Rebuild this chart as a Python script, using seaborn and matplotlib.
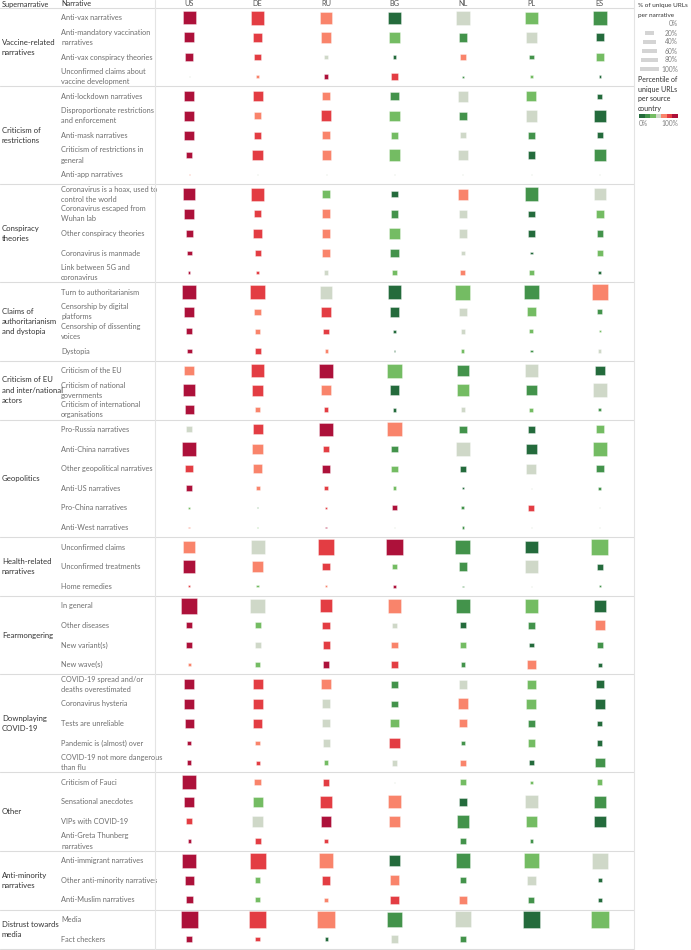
import numpy as np
import pandas as pd
import seaborn as sns
from matplotlib import pyplot as plt
from matplotlib.patches import Rectangle
from matplotlib.transforms import blended_transform_factory

countries = ["US", "DE", "RU", "BG", "NL", "PL", "ES"]

groups = ["Vaccine-related\nnarratives", "Criticism of\nrestrictions", "Conspiracy\ntheories",
          "Claims of\nauthoritarianism\nand dystopia", "Criticism of EU\nand inter/national\nactors",
          "Geopolitics", "Health-related\nnarratives", "Fearmongering", "Downplaying\nCOVID-19",
          "Other", "Anti-minority\nnarratives", "Distrust towards\nmedia"]
group_sizes = [4, 5, 5, 4, 3, 6, 3, 4, 5, 4, 3, 2]

narratives = [
    "Anti-vax narratives", "Anti-mandatory vaccination\nnarratives", "Anti-vax conspiracy theories",
    "Unconfirmed claims about\nvaccine development",
    "Anti-lockdown narratives", "Disproportionate restrictions\nand enforcement", "Anti-mask narratives",
    "Criticism of restrictions in\ngeneral", "Anti-app narratives",
    "Coronavirus is a hoax, used to\ncontrol the world", "Coronavirus escaped from\nWuhan lab",
    "Other conspiracy theories", "Coronavirus is manmade", "Link between 5G and\ncoronavirus",
    "Turn to authoritarianism", "Censorship by digital\nplatforms", "Censorship of dissenting\nvoices", "Dystopia",
    "Criticism of the EU", "Criticism of national\ngovernments", "Criticism of international\norganisations",
    "Pro-Russia narratives", "Anti-China narratives", "Other geopolitical narratives", "Anti-US narratives",
    "Pro-China narratives", "Anti-West narratives",
    "Unconfirmed claims", "Unconfirmed treatments", "Home remedies",
    "In general", "Other diseases", "New variant(s)", "New wave(s)",
    "COVID-19 spread and/or\ndeaths overestimated", "Coronavirus hysteria", "Tests are unreliable",
    "Pandemic is (almost) over", "COVID-19 not more dangerous\nthan flu",
    "Criticism of Fauci", "Sensational anecdotes", "VIPs with COVID-19", "Anti-Greta Thunberg\nnarratives",
    "Anti-immigrant narratives", "Other anti-minority narratives", "Anti-Muslim narratives",
    "Media", "Fact checkers",
]

# % of unique URLs per narrative
share_us = [53, 33, 18, 0.3, 36, 29, 29, 12, 0.3, 48, 29, 15, 8, 1.8, 59, 29, 11, 8, 31, 45, 27,
            11, 65, 18, 12, 1.3, 0.9, 45, 51, 0.9, 78, 12, 12, 2.4, 33, 29, 27, 5, 6, 65, 29, 11, 3.7,
            65, 25, 15, 96, 11]
share_de = [59, 25, 15, 2.4, 33, 15, 18, 36, 0.3, 53, 15, 25, 11, 3, 68, 13, 6, 12, 53, 38, 8,
            33, 36, 27, 4.5, 0.3, 0.9, 65, 36, 1.8, 68, 12, 12, 9.5, 31, 33, 25, 6, 5, 13, 33, 43, 11,
            82, 9.5, 7, 100, 6]
share_ru = [51, 38, 7, 6, 21, 38, 20, 27, 0.3, 21, 25, 25, 25, 6, 53, 36, 9.5, 3, 62, 33, 7,
            59, 15, 20, 4.5, 0.9, 0.9, 78, 18, 1.8, 53, 18, 16, 13, 29, 25, 20, 16, 6, 15, 45, 38, 3.7,
            68, 25, 6, 100, 3]
share_bg = [48, 40, 3.7, 15, 21, 33, 15, 40, 0.3, 12, 18, 40, 21, 8, 62, 31, 4.5, 0.9, 65, 31, 4.5,
            65, 13, 12, 4.5, 7, 0.3, 89, 8, 3.7, 59, 8, 15, 16, 16, 12, 21, 38, 11, 0.3, 53, 45, 0.3,
            43, 31, 23, 78, 18]
share_nl = [59, 25, 15, 1.3, 38, 21, 12, 33, 0.3, 38, 18, 25, 7, 8, 72, 21, 7, 3, 45, 51, 7,
            18, 68, 11, 1.8, 3, 1.8, 72, 25, 0.6, 68, 11, 15, 7, 25, 38, 20, 6, 12, 12, 21, 53, 11,
            68, 12, 18, 85, 11]
share_pl = [51, 43, 7, 1.8, 33, 43, 18, 18, 0.3, 59, 13, 18, 1.8, 7, 68, 27, 5, 2.4, 59, 36, 5,
            18, 36, 33, 0.3, 11, 0.3, 51, 53, 0.15, 59, 15, 7, 23, 25, 33, 16, 18, 7, 3.7, 53, 36, 3,
            68, 25, 11, 100, 0.15]
share_es = [65, 21, 18, 1.8, 8, 43, 12, 45, 0.3, 51, 18, 13, 11, 3, 85, 8, 1.3, 3.7, 29, 68, 3.7,
            20, 59, 18, 2.4, 0.3, 0.3, 89, 12, 0.9, 51, 33, 12, 5, 18, 33, 8, 9.5, 29, 9.5, 51, 43, 0.15,
            85, 4.5, 4.5, 100, 0.15]

# percentile of unique URLs per source country
pctl_us = [100, 100, 100, 50, 100, 100, 100, 100, 67, 100, 100, 100, 100, 100, 100, 100, 100, 100,
           67, 100, 100, 50, 100, 83, 100, 33, 67, 67, 100, 83, 100, 100, 100, 67,
           100, 100, 100, 100, 100, 100, 100, 83, 100, 100, 100, 100, 100, 100]
pctl_de = [83, 83, 83, 67, 83, 67, 83, 83, 50, 83, 83, 83, 83, 83, 83, 67, 67, 83,
           83, 83, 67, 83, 67, 67, 67, 17, 33, 50, 67, 33, 50, 33, 50, 33,
           83, 83, 83, 67, 83, 67, 33, 50, 83, 83, 33, 33, 83, 83]
pctl_ru = [67, 67, 50, 100, 67, 83, 67, 67, 50, 33, 67, 67, 67, 50, 50, 83, 83, 67,
           100, 67, 83, 100, 83, 100, 83, 83, 100, 83, 83, 67, 83, 83, 83, 100,
           67, 50, 50, 50, 33, 83, 83, 100, 83, 67, 83, 67, 67, 0]
pctl_bg = [0, 33, 0, 83, 17, 33, 33, 33, 50, 0, 17, 33, 17, 33, 0, 0, 0, 0,
           33, 0, 0, 67, 17, 33, 33, 100, 50, 100, 33, 100, 67, 50, 67, 83,
           17, 17, 33, 83, 50, 50, 67, 67, 50, 0, 67, 83, 17, 50]
pctl_nl = [50, 17, 67, 17, 50, 17, 50, 50, 50, 67, 50, 50, 50, 67, 33, 50, 50, 33,
           17, 33, 50, 17, 50, 0, 0, 17, 17, 17, 17, 17, 17, 0, 33, 17,
           50, 67, 67, 17, 67, 33, 0, 17, 17, 17, 17, 67, 50, 17]
pctl_pl = [33, 50, 17, 33, 33, 50, 17, 0, 50, 17, 0, 0, 0, 33, 17, 33, 33, 17,
           50, 17, 33, 0, 0, 50, 50, 83, 50, 0, 50, 50, 33, 17, 0, 67,
           33, 33, 17, 33, 0, 33, 50, 33, 17, 33, 50, 17, 0, 50]
pctl_es = [17, 0, 33, 0, 0, 0, 0, 17, 50, 50, 33, 17, 33, 0, 67, 17, 33, 50,
           0, 50, 17, 33, 33, 17, 17, 50, 50, 33, 0, 17, 0, 67, 17, 0,
           0, 0, 0, 0, 17, 33, 17, 0, 50, 50, 0, 0, 33, 50]

shares = [share_us, share_de, share_ru, share_bg, share_nl, share_pl, share_es]
pctls = [pctl_us, pctl_de, pctl_ru, pctl_bg, pctl_nl, pctl_pl, pctl_es]

palette = {0: "#246b3c", 17: "#43934b", 33: "#74bc63", 50: "#cfd8c8",
           67: "#f9846b", 83: "#e33d43", 100: "#ad113a"}

rows = []
for c, sh, pc in zip(countries, shares, pctls):
    for n, s, p in zip(narratives, sh, pc):
        rows.append({"country": c, "narrative": n, "share": s, "pctl": p})
df = pd.DataFrame(rows)

sns.set_style("white")
plt.rcParams["font.family"] = ["Lato", "DejaVu Sans"]
FS = 5.3

W, H = 691, 950
fig = plt.figure(figsize=(W / 100, H / 100), dpi=100)
top, pitch = 8, 19.6
n_rows = len(narratives)
ax = fig.add_axes([155 / W, 1 - (top + pitch * n_rows) / H, 479 / W, pitch * n_rows / H])

sns.scatterplot(data=df, x="country", y="narrative", hue="pctl", palette=palette,
                size="share", sizes=(0, 160), size_norm=(0, 100), marker="s",
                edgecolor=(1, 1, 1, 0.4), linewidth=0.6, legend=False, ax=ax)

ax.set_xlim(-0.5, len(countries) - 0.5)
ax.set_ylim(n_rows - 0.5, -0.5)
ax.set_xlabel("")
ax.set_ylabel("")
for s in ax.spines.values():
    s.set_visible(False)
ax.xaxis.tick_top()
ax.tick_params(axis="x", length=0, pad=0.6, labelsize=FS, labelcolor="#555555")
ax.tick_params(axis="y", length=0, pad=94 * 0.72, labelsize=FS, labelcolor="#6e6e6e")
for t in ax.get_yticklabels():
    t.set_ha("left")
    t.set_va("center")
    t.set_linespacing(1.55)

# lines and group labels
tr = blended_transform_factory(fig.transFigure, ax.transData)
line_kw = dict(color="#dcdcdc", lw=0.8, clip_on=False, transform=tr)
bounds = np.concatenate([[0], np.cumsum(group_sizes)]) - 0.5
for b in bounds:
    ax.plot([0, 634 / W], [b, b], **line_kw)
for gname, lo, hi in zip(groups, bounds[:-1], bounds[1:]):
    ax.text(2 / W, (lo + hi) / 2, gname, transform=tr, fontsize=FS + 0.3, color="#333333",
            ha="left", va="center", linespacing=1.55)

for xv in (155, 634):
    fig.add_artist(plt.Line2D([xv / W, xv / W], [0, 1], color="#e4e4e4", lw=0.8))

fig.text(2 / W, 1 - 4 / H, "Supernarrative", fontsize=FS, color="#333333", va="center")
fig.text(61 / W, 1 - 4 / H, "Narrative", fontsize=FS, color="#333333", va="center")

# legend
lax = fig.add_axes([636 / W, 1 - 140 / H, 55 / W, 140 / H])
lax.set_xlim(636, 691)
lax.set_ylim(140, 0)
lax.axis("off")
lax.text(638, 6, "% of unique URLs", fontsize=4.6, color="#333333", va="center")
lax.text(638, 15, "per narrative", fontsize=4.6, color="#333333", va="center")
legend_vals = [0, 20, 40, 60, 80, 100]
for i, v in enumerate(legend_vals):
    y = 24 + 9 * i
    w = max(19 * np.sqrt(v / 100), 0.8)
    h = 4 if v > 0 else 0.8
    lax.add_patch(Rectangle((649.5 - w / 2, y - h / 2), w, h, color="#d4d4d4", lw=0))
    lax.text(678, y, f"{v}%", fontsize=4.8, color="#808080", ha="right", va="center")
for i, line in enumerate(["Percentile of", "unique URLs", "per source", "country"]):
    lax.text(638, 80 + 9.5 * i, line, fontsize=5.0, color="#333333", va="center")
cols = list(palette.values())
bw = 39 / len(cols)
for i, c in enumerate(cols):
    lax.add_patch(Rectangle((639 + i * bw, 114), bw, 4, color=c, lw=0))
lax.text(639, 123.5, "0%", fontsize=4.8, color="#808080", ha="left", va="center")
lax.text(678, 123.5, "100%", fontsize=4.8, color="#808080", ha="right", va="center")

fig.savefig("out.png", dpi=100)
